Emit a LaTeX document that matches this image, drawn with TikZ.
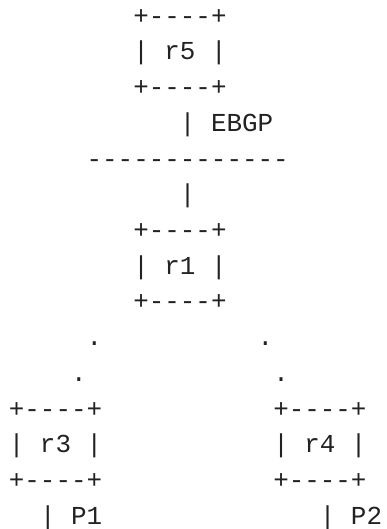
\documentclass[tikz,border=0pt]{standalone}
\usepackage{fontspec}
\setmonofont{Liberation Mono}
\definecolor{ink}{RGB}{34,34,34}
\begin{document}
\begin{tikzpicture}[x=1pt,y=-1pt,
  asc/.style={anchor=base west, inner sep=0pt, outer sep=0pt, text=ink,
              font=\ttfamily\fontsize{25.9}{35.7}\selectfont}]
\useasboundingbox (0,0) rectangle (386,529);
% column c -> x = 8.9 + 15.55 c ; row r -> baseline y = 24.3 + 35.7 r
% r5
\node[asc] (r5top) at (8.9+15.55*8, 24.3+35.7*0) {+----+};
\node[asc] (r5)    at (8.9+15.55*8, 24.3+35.7*1) {| r5 |};
\node[asc] (r5bot) at (8.9+15.55*8, 24.3+35.7*2) {+----+};
% EBGP link and LAN
\node[asc] (ebgp)  at (8.9+15.55*11, 24.3+35.7*3) {| EBGP};
\node[asc] (lan)   at (8.9+15.55*5, 24.3+35.7*4) {-------------};
\node[asc] (link1) at (8.9+15.55*11, 24.3+35.7*5) {|};
% r1
\node[asc] (r1top) at (8.9+15.55*8, 24.3+35.7*6) {+----+};
\node[asc] (r1)    at (8.9+15.55*8, 24.3+35.7*7) {| r1 |};
\node[asc] (r1bot) at (8.9+15.55*8, 24.3+35.7*8) {+----+};
% dotted links
\node[asc] (d1) at (8.9+15.55*5, 24.3+35.7*9) {.};
\node[asc] (d2) at (8.9+15.55*16, 24.3+35.7*9) {.};
\node[asc] (d3) at (8.9+15.55*4, 24.3+35.7*10) {.};
\node[asc] (d4) at (8.9+15.55*17, 24.3+35.7*10) {.};
% r3
\node[asc] (r3top) at (8.9+15.55*0, 24.3+35.7*11) {+----+};
\node[asc] (r3)    at (8.9+15.55*0, 24.3+35.7*12) {| r3 |};
\node[asc] (r3bot) at (8.9+15.55*0, 24.3+35.7*13) {+----+};
\node[asc] (p1)    at (8.9+15.55*2, 24.3+35.7*14) {| P1};
% r4
\node[asc] (r4top) at (8.9+15.55*17, 24.3+35.7*11) {+----+};
\node[asc] (r4)    at (8.9+15.55*17, 24.3+35.7*12) {| r4 |};
\node[asc] (r4bot) at (8.9+15.55*17, 24.3+35.7*13) {+----+};
\node[asc] (p2)    at (8.9+15.55*20, 24.3+35.7*14) {| P2};
\end{tikzpicture}
\end{document}
